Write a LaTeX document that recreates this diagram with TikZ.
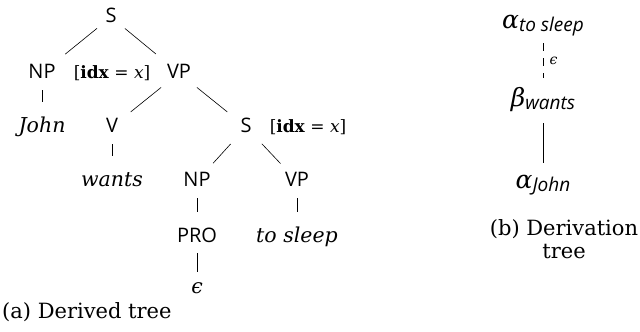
\documentclass[tikz,border=0pt]{standalone}
\usepackage{fontspec}
\setmainfont{DejaVu Serif}
\setsansfont{Open Sans}
\newcommand\dersym[2]{{\fontsize{25}{26}\selectfont\itshape #1}\raisebox{-3pt}{\fontsize{19}{19}\selectfont\sffamily\itshape #2}}
\begin{document}
\begin{tikzpicture}[x=1pt,y=-1pt,
    lab/.style={font=\fontsize{20}{22}\selectfont\sffamily, inner sep=2pt, text height=14pt, text depth=4pt, anchor=base},
    word/.style={font=\fontsize{20.5}{22}\selectfont\itshape, inner sep=2pt, text height=14pt, text depth=4pt, anchor=base},
    feat/.style={font=\fontsize{17}{20}\selectfont, anchor=base},
    capt/.style={font=\fontsize{21}{23}\selectfont, inner sep=0pt},
    der/.style={inner sep=2pt, anchor=base},
    branch/.style={line width=.6pt, shorten <=23pt, shorten >=24pt},
    stem/.style={line width=.6pt, shorten <=17pt, shorten >=25pt}]
\useasboundingbox (0,0) rectangle (640,332);

% derived tree
\node[lab] (S1) at (111,22) {S};
\node[lab] (NP1) at (42,78) {NP};
\node[feat] (idx1) at (112,78) {[\textbf{idx} = \textit{x}]};
\node[lab] (VP1) at (179,78) {VP};
\node[word] (John) at (42,132) {John};
\node[lab] (V) at (112,132) {V};
\node[lab] (S2) at (246,132) {S};
\node[feat] (idx2) at (308,132) {[\textbf{idx} = \textit{x}]};
\node[word] (wants) at (112,186) {wants};
\node[lab] (NP2) at (197,186) {NP};
\node[lab] (VP2) at (297,186) {VP};
\node[lab] (PRO) at (197,242) {PRO};
\node[word] (sleep) at (297,242) {to sleep};
\node[word] (eps) at (197,293) {ϵ};

\draw[branch, shorten <=18pt, shorten >=30pt] (S1.center) -- (NP1.center);
\draw[branch, shorten <=18pt, shorten >=30pt] (S1.center) -- (VP1.center);
\draw[stem] (NP1.center) -- (John.center);
\draw[branch] (VP1.center) -- (V.center);
\draw[branch] (VP1.center) -- (S2.center);
\draw[stem] (V.center) -- (wants.center);
\draw[branch] (S2.center) -- (NP2.center);
\draw[branch] (S2.center) -- (VP2.center);
\draw[stem] (NP2.center) -- (PRO.center);
\draw[stem] (VP2.center) -- (sleep.center);
\draw[stem, shorten <=16pt, shorten >=16pt] (PRO.center) -- (eps.center);

\node[capt, anchor=base west] (capa) at (2,318) {(a) Derived tree};

% derivation tree
\node[der] (aSleep) at (543,28) {\dersym{α}{to sleep}};
\node[der] (bWants) at (543,106) {\dersym{β}{wants}};
\node[der] (aJohn) at (543,188) {\dersym{α}{John}};

\draw[line width=.6pt, dash pattern=on 8pt off 7pt, shorten <=15pt, shorten >=28pt] (aSleep.base) -- node[right, pos=.42, xshift=3pt, font=\fontsize{14}{14}\selectfont\itshape] {ϵ} (bWants.base);
\draw[line width=.6pt, shorten <=17pt, shorten >=25pt] (bWants.base) -- (aJohn.base);

\node[capt, anchor=base, align=center] (capb) at (564,258) {(b) Derivation\\tree};
\end{tikzpicture}
\end{document}
